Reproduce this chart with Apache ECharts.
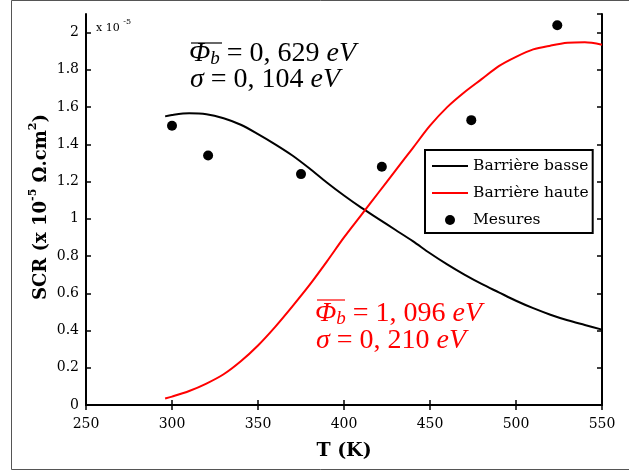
<!DOCTYPE html>
<html><head><meta charset="utf-8">
<script src="https://cdn.jsdelivr.net/npm/echarts@6/dist/echarts.min.js"></script>
<style>html,body{margin:0;padding:0;background:#fff}#c{width:629px;height:472px}</style>
</head><body><div id="c"></div>
<script>
// Model curves (temperature in K, SCR in x1e-5 Ohm.cm2)
const T_curve = [296,300,310,320,330,340,350,360,370,380,390,400,410,420,430,440,450,460,470,480,490,500,510,520,530,540,550];
const barriereBasse = [1.55,1.558,1.567,1.562,1.54,1.505,1.455,1.40,1.34,1.27,1.195,1.125,1.06,1.0,0.94,0.88,0.815,0.755,0.70,0.65,0.605,0.56,0.52,0.485,0.455,0.43,0.405];
const barriereHaute = [0.035,0.045,0.075,0.115,0.165,0.235,0.32,0.42,0.53,0.645,0.77,0.90,1.02,1.14,1.26,1.38,1.50,1.60,1.68,1.75,1.82,1.87,1.91,1.93,1.945,1.948,1.935];
// Measurements
const T_mes = [300,321,375,422,474,524];
const mesures = [1.50,1.34,1.24,1.28,1.53,2.04];
// Axis ticks
const xMin = 250, xMax = 550, xStep = 50;
const yMin = 0, yMax = 2.1, yStep = 0.2;
const seriesNames = ['Barrière basse','Barrière haute','Mesures'];

const SERIF = 'DejaVu Serif';
const MATH = 'Liberation Serif';
const MS = 28;
const chart = echarts.init(document.getElementById('c'));
const pair = (xs, ys) => xs.map((x, i) => [x, ys[i]]);
const axisLine = {show:true, lineStyle:{color:'#000', width:2}};
const tick = {show:true, inside:true, length:5, lineStyle:{color:'#000', width:1.5}};
function mathRich(color){
  return {
    i:{fontFamily:MATH, fontStyle:'italic', fontSize:MS, fill:color, lineHeight:28, verticalAlign:'bottom'},
    b:{fontFamily:MATH, fontStyle:'italic', fontSize:19, fill:color, lineHeight:14, verticalAlign:'bottom'},
    n:{fontFamily:MATH, fontSize:MS, fill:color, lineHeight:28, verticalAlign:'bottom'}
  };
}
chart.setOption({
  animation:false,
  backgroundColor:'#fff',
  grid:{left:86, top:14, right:27, bottom:67, show:false},
  xAxis:[
    {type:'value', min:xMin, max:xMax, interval:xStep, position:'bottom',
     axisLine, axisTick:tick, splitLine:{show:false},
     axisLabel:{margin:12, color:'#000', fontFamily:SERIF, fontSize:14},
     name:'T (K)', nameLocation:'middle', nameGap:37,
     nameTextStyle:{color:'#000', fontFamily:SERIF, fontSize:19, fontWeight:'bold'}},
    {type:'value', min:xMin, max:xMax, interval:xStep, position:'top',
     axisLine, axisTick:tick, axisLabel:{show:false}, splitLine:{show:false}}
  ],
  yAxis:[
    {type:'value', min:yMin, max:yMax, interval:yStep, position:'left',
     axisLine, axisTick:tick, splitLine:{show:false},
     axisLabel:{margin:7, color:'#000', fontFamily:SERIF, fontSize:14, showMaxLabel:false,
       formatter: v => String(Math.round(v*10)/10)}},
    {type:'value', min:yMin, max:yMax, interval:yStep, position:'right',
     axisLine, axisTick:tick, axisLabel:{show:false}, splitLine:{show:false}}
  ],
  legend:{
    orient:'vertical', left:425, top:150, padding:[7,4,4,7],
    borderColor:'#000', borderWidth:2, backgroundColor:'#fff',
    itemWidth:36, itemHeight:10, itemGap:9,
    textStyle:{color:'#000', fontFamily:SERIF, fontSize:15.5, lineHeight:18},
    data:[
      {name:seriesNames[0], icon:'path://M0,0L36,0L36,2L0,2Z'},
      {name:seriesNames[1], icon:'path://M0,0L36,0L36,2L0,2Z'},
      {name:seriesNames[2], icon:'circle'}
    ]
  },
  graphic:[
    {type:'rect', silent:true, z:-10, shape:{x:11.5, y:0.5, width:640, height:469}, style:{fill:null, stroke:'#555', lineWidth:1}},
    {type:'text', left:96, top:18, style:{text:'{a|x 10 }{s|-5}', rich:{a:{fontFamily:SERIF, fontSize:11, fill:'#000', lineHeight:16, verticalAlign:'bottom'}, s:{fontFamily:SERIF, fontSize:8, fill:'#000', lineHeight:16, verticalAlign:'top'}}}},
    {type:'text', x:39, y:207, rotation:Math.PI/2, style:{text:'{a|SCR (x 10}{s|-5}{a| Ω.cm}{s|2}{a|)}', align:'center', verticalAlign:'middle',
      rich:{a:{fontFamily:SERIF, fontSize:18, fontWeight:'bold', fill:'#000', lineHeight:23, verticalAlign:'bottom'}, s:{fontFamily:SERIF, fontSize:11, fontWeight:'bold', fill:'#000', lineHeight:23, verticalAlign:'top'}}}},
    {type:'text', x:189, y:40, style:{text:'{i|Φ}{b|b}{n| = 0, 629 }{i|eV}', rich:mathRich('#000')}},
    {type:'line', shape:{x1:191, y1:43, x2:222, y2:43}, style:{stroke:'#000', lineWidth:1.2}},
    {type:'text', x:190, y:66, style:{text:'{i|σ}{n| = 0, 104 }{i|eV}', rich:mathRich('#000')}},
    {type:'text', x:315, y:300, style:{text:'{i|Φ}{b|b}{n| = 1, 096 }{i|eV}', rich:mathRich('#f00')}},
    {type:'line', shape:{x1:317, y1:300, x2:345, y2:300}, style:{stroke:'#f00', lineWidth:1.2}},
    {type:'text', x:316, y:327, style:{text:'{i|σ}{n| = 0, 210 }{i|eV}', rich:mathRich('#f00')}}
  ],
  series:[
    {name:seriesNames[0], type:'line', data:pair(T_curve, barriereBasse), smooth:0.3, showSymbol:false,
     lineStyle:{color:'#000', width:2}, itemStyle:{color:'#000'}},
    {name:seriesNames[1], type:'line', data:pair(T_curve, barriereHaute), smooth:0.3, showSymbol:false,
     lineStyle:{color:'#f00', width:2}, itemStyle:{color:'#f00'}},
    {name:seriesNames[2], type:'scatter', data:pair(T_mes, mesures), symbolSize:10,
     itemStyle:{color:'#000', opacity:1}}
  ]
});
</script></body></html>
